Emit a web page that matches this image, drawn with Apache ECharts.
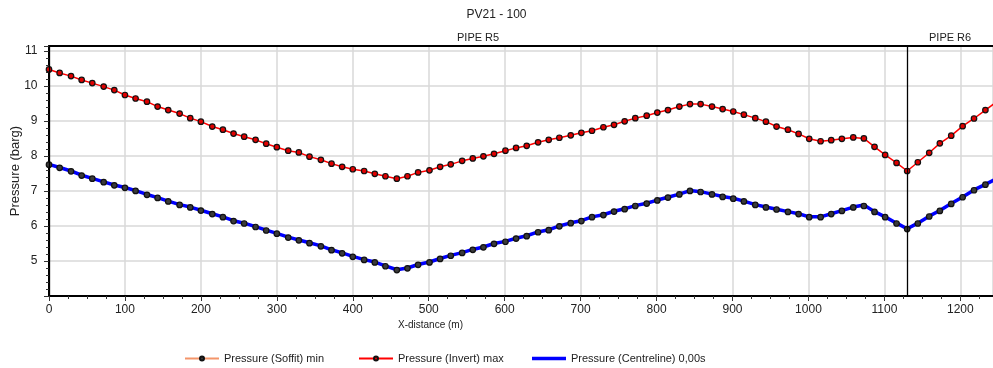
<!DOCTYPE html>
<html>
<head>
<meta charset="utf-8">
<title>PV21 - 100</title>
<script src="https://cdn.jsdelivr.net/npm/echarts@6/dist/echarts.min.js"></script>
<style>
  html, body { margin: 0; padding: 0; background: #fff; }
  #chart { width: 993px; height: 368px; }
</style>
</head>
<body>
<div id="chart"></div>
<script>
// chainage of the computed points (m), pipe R5 then pipe R6
const xDistance = [
  0, 14, 29, 43, 57, 72, 86, 100, 114, 129, 143, 157, 172, 186, 200, 215, 229, 243, 257, 272,
  286, 300, 315, 329, 343, 358, 372, 386, 400, 415, 429, 443, 458, 472, 486, 501, 515, 529, 544, 558,
  572, 586, 601, 615, 629, 644, 658, 672, 687, 701, 715, 730, 744, 758, 772, 787, 801, 815, 830, 844,
  858, 873, 887, 901, 915, 930, 944, 958, 973, 987, 1001, 1016, 1030, 1044, 1059, 1073, 1087, 1101, 1116, 1130,
  1144, 1159, 1173, 1188, 1203, 1218, 1233, 1248
];

const soffitMin = [
  7.75, 7.66, 7.56, 7.44, 7.35, 7.25, 7.16, 7.09, 7.00, 6.89, 6.80, 6.70, 6.60, 6.53, 6.44, 6.34, 6.25, 6.14, 6.07, 5.97,
  5.87, 5.78, 5.67, 5.59, 5.51, 5.42, 5.31, 5.22, 5.12, 5.03, 4.96, 4.85, 4.74, 4.79, 4.89, 4.96, 5.06, 5.15, 5.23, 5.32,
  5.39, 5.49, 5.55, 5.64, 5.71, 5.82, 5.88, 5.99, 6.08, 6.14, 6.25, 6.31, 6.41, 6.48, 6.57, 6.64, 6.73, 6.81, 6.90, 7.00,
  6.97, 6.90, 6.83, 6.78, 6.70, 6.60, 6.53, 6.47, 6.40, 6.34, 6.25, 6.25, 6.34, 6.43, 6.53, 6.57, 6.40, 6.25, 6.07, 5.91,
  6.07, 6.27, 6.43, 6.63, 6.82, 7.02, 7.18, 7.34
];

const invertMax = [
  10.47, 10.37, 10.28, 10.17, 10.08, 9.98, 9.88, 9.74, 9.64, 9.55, 9.41, 9.31, 9.21, 9.08, 8.98, 8.84, 8.75, 8.64, 8.55, 8.46,
  8.35, 8.25, 8.15, 8.10, 7.98, 7.89, 7.78, 7.69, 7.62, 7.57, 7.49, 7.42, 7.35, 7.42, 7.53, 7.59, 7.69, 7.76, 7.86, 7.93,
  7.99, 8.06, 8.15, 8.23, 8.29, 8.39, 8.46, 8.52, 8.59, 8.66, 8.72, 8.82, 8.89, 8.99, 9.08, 9.15, 9.24, 9.31, 9.41, 9.48,
  9.48, 9.41, 9.34, 9.27, 9.18, 9.08, 8.98, 8.84, 8.75, 8.63, 8.49, 8.42, 8.45, 8.49, 8.53, 8.50, 8.26, 8.03, 7.80, 7.57,
  7.82, 8.09, 8.36, 8.58, 8.85, 9.07, 9.31, 9.55
];

const centreline = [
  7.76, 7.67, 7.57, 7.45, 7.36, 7.26, 7.17, 7.10, 7.01, 6.90, 6.81, 6.71, 6.61, 6.54, 6.45, 6.35, 6.26, 6.15, 6.08, 5.98,
  5.88, 5.79, 5.68, 5.60, 5.52, 5.43, 5.32, 5.23, 5.13, 5.04, 4.97, 4.86, 4.75, 4.80, 4.90, 4.97, 5.07, 5.16, 5.24, 5.33,
  5.40, 5.50, 5.56, 5.65, 5.72, 5.83, 5.89, 6.00, 6.09, 6.15, 6.26, 6.32, 6.42, 6.49, 6.58, 6.65, 6.74, 6.82, 6.91, 7.01,
  6.98, 6.91, 6.84, 6.79, 6.71, 6.61, 6.54, 6.48, 6.41, 6.35, 6.26, 6.26, 6.35, 6.44, 6.54, 6.60, 6.41, 6.26, 6.08, 5.92,
  6.08, 6.28, 6.44, 6.64, 6.83, 7.03, 7.19, 7.35
];

const pipeNames = ["PIPE R5", "PIPE R6"];
const pipeStarts = [0, 1130];
const xMax = 1243;
const yMin = 4;
const yMax = 11.14;

const seriesNames = [
  "Pressure (Soffit) min",
  "Pressure (Invert) max",
  "Pressure (Centreline) 0,00s",
];

const sans = '"Liberation Sans", Arial, sans-serif';

function pairs(values) {
  return xDistance.map((x, i) => [x, values[i]]);
}

const pipeAreas = pipeNames.map((name, i) => [
  { xAxis: pipeStarts[i], name },
  { xAxis: i + 1 < pipeStarts.length ? pipeStarts[i + 1] : xMax },
]);

// one legend per entry so every entry sits in its own fixed-width slot
const legendLefts = [179, 353, 527];
const legends = seriesNames.map((name, i) => {
  const item = { name };
  if (i === 2) item.icon = "rect";
  return {
    data: [item],
    left: legendLefts[i],
    top: 348,
    itemWidth: 34,
    itemHeight: i === 2 ? 3.5 : 5,
    textStyle: { fontFamily: sans, fontSize: 11, color: "#222" },
  };
});

const chart = echarts.init(document.getElementById("chart"));

chart.setOption({
  animation: false,
  backgroundColor: "#fff",
  title: {
    text: "PV21 - 100",
    left: "center",
    top: 4,
    textStyle: { fontFamily: sans, fontSize: 12, fontWeight: "normal", color: "#222" },
  },
  legend: legends,
  grid: { left: 49, right: 0, top: 46, bottom: 72, containLabel: false, outerBoundsMode: "none" },
  xAxis: [
    {
      type: "value",
      min: 0,
      max: xMax,
      interval: 100,
      axisLine: { lineStyle: { color: "#000", width: 2 } },
      axisTick: { length: 5, lineStyle: { color: "#333" } },
      minorTick: { show: true, splitNumber: 4, length: 3, lineStyle: { color: "#333" } },
      axisLabel: {
        margin: 8,
        fontFamily: sans,
        fontSize: 12,
        color: "#222",
        formatter: (v) => (v % 100 === 0 ? String(v) : ""),
      },
      splitLine: { show: true, lineStyle: { color: "#d9d9d9", width: 1.5 } },
    },
    {
      type: "value",
      position: "top",
      min: 0,
      max: xMax,
      axisLine: { show: true, lineStyle: { color: "#000", width: 2 } },
      axisTick: { show: false },
      axisLabel: { show: false },
      splitLine: { show: false },
    },
  ],
  yAxis: {
    type: "value",
    min: yMin,
    max: yMax,
    interval: 1,
    offset: 3.5,
    name: "Pressure (barg)",
    nameLocation: "middle",
    nameGap: 24,
    nameMoveOverlap: false,
    nameTextStyle: { fontFamily: sans, fontSize: 13, color: "#222" },
    axisLine: { show: true, lineStyle: { color: "#000", width: 2 } },
    axisTick: { length: 5, lineStyle: { color: "#333" } },
    minorTick: { show: true, splitNumber: 5, length: 3, lineStyle: { color: "#333" } },
    axisLabel: {
      margin: 8,
      fontFamily: sans,
      fontSize: 12,
      color: "#222",
      formatter: (v) => (Number.isInteger(v) && v > yMin ? String(v) : ""),
    },
    splitLine: { show: true, lineStyle: { color: "#d9d9d9", width: 1.5 } },
  },
  graphic: [
    {
      type: "text",
      left: 398,
      top: 320,
      style: { text: "X-distance (m)", fontFamily: sans, fontSize: 10, fill: "#222" },
    },
  ],
  series: [
    {
      name: "pipes",
      type: "line",
      data: [],
      silent: true,
      markArea: {
        silent: true,
        itemStyle: { color: "rgba(0,0,0,0)" },
        label: { show: true, position: "top", distance: 3, fontFamily: sans, fontSize: 11, color: "#222" },
        data: pipeAreas,
      },
      markLine: {
        silent: true,
        symbol: ["none", "none"],
        label: { show: false },
        lineStyle: { color: "#000", width: 1.3, type: "solid" },
        data: pipeStarts.map((x) => ({ xAxis: x })),
      },
    },
    {
      name: seriesNames[0],
      type: "line",
      data: pairs(soffitMin),
      symbol: "circle",
      symbolSize: 5.5,
      lineStyle: { color: "#f4956a", width: 1.2 },
      itemStyle: { color: "#3a3a3a", borderColor: "#111", borderWidth: 1.2 },
    },
    {
      name: seriesNames[1],
      type: "line",
      data: pairs(invertMax),
      symbol: "circle",
      symbolSize: 5.5,
      lineStyle: { color: "#ff0000", width: 1.5 },
      itemStyle: { color: "#e00000", borderColor: "#111", borderWidth: 1.2 },
    },
    {
      name: seriesNames[2],
      type: "line",
      data: pairs(centreline),
      symbol: "none",
      lineStyle: { color: "#0000ff", width: 3.5 },
      itemStyle: { color: "#0000ff" },
    },
  ],
});
</script>
</body>
</html>
